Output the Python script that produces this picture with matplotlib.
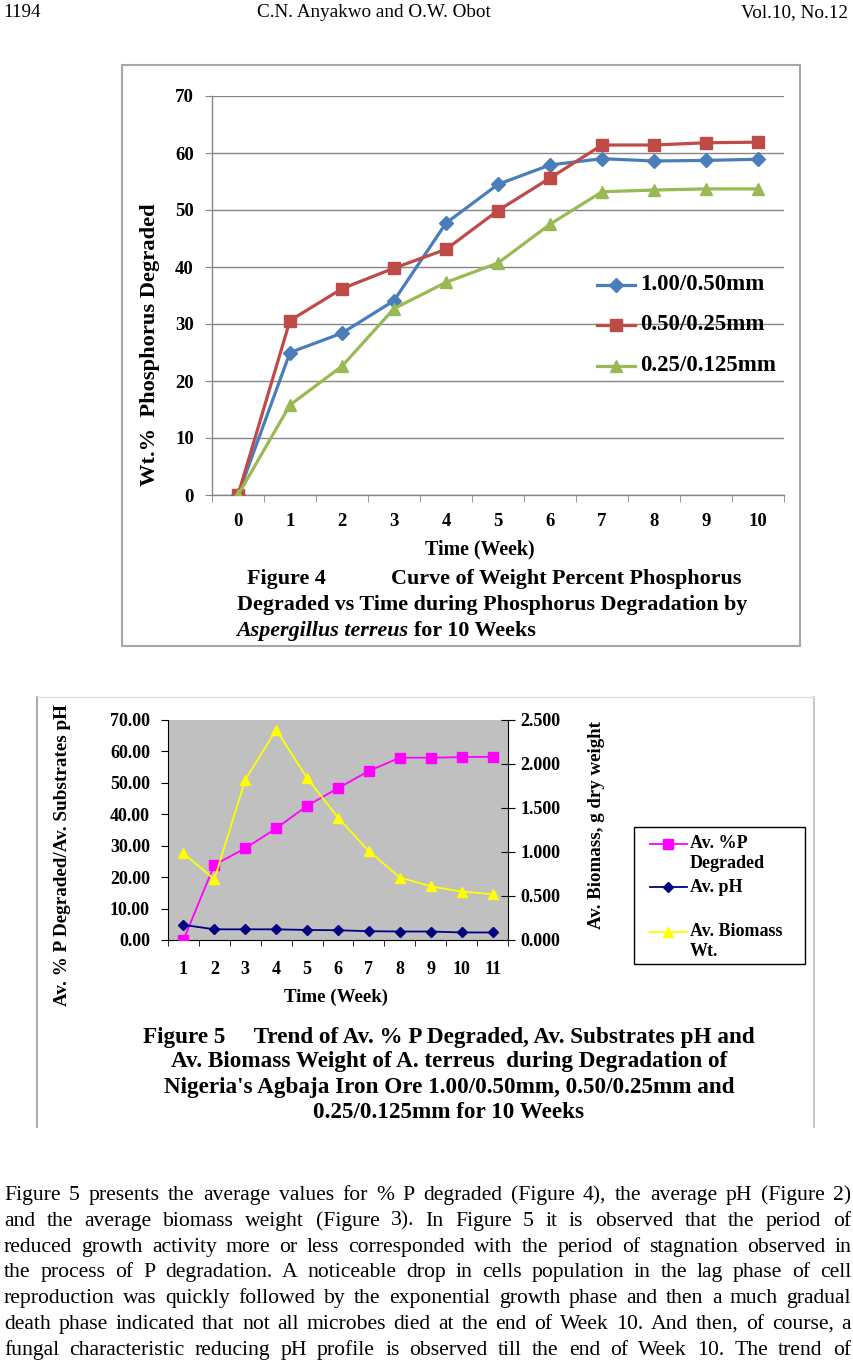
import matplotlib
matplotlib.use('Agg')
import matplotlib.pyplot as plt
from matplotlib.lines import Line2D
from matplotlib.patches import Rectangle

# ---------------- data ----------------
# Figure 4
weeks4 = list(range(0, 11))
size_labels = ['1.00/0.50mm', '0.50/0.25mm', '0.25/0.125mm']
p_coarse = [0, 25.0, 28.4, 34.1, 47.7, 54.5, 57.9, 59.0, 58.6, 58.7, 58.9]
p_medium = [0, 30.6, 36.2, 39.8, 43.1, 49.9, 55.6, 61.4, 61.4, 61.8, 61.9]
p_fine = [0, 15.8, 22.6, 32.7, 37.3, 40.7, 47.5, 53.2, 53.5, 53.7, 53.7]
y4_ticks = [0, 10, 20, 30, 40, 50, 60, 70]

# Figure 5
weeks5 = list(range(1, 12))
avg_p = [0.0, 23.9, 29.2, 35.5, 42.7, 48.3, 53.8, 58.0, 58.0, 58.2, 58.3]
avg_ph = [4.8, 3.4, 3.4, 3.4, 3.2, 3.1, 2.8, 2.7, 2.7, 2.4, 2.4]
avg_biomass = [0.985, 0.69, 1.82, 2.39, 1.84, 1.39, 1.01, 0.71, 0.61, 0.55, 0.52]
y5_left_ticks = [0, 10, 20, 30, 40, 50, 60, 70]
y5_right_ticks = [0.0, 0.5, 1.0, 1.5, 2.0, 2.5]
legend5_labels = [['Av. %P', 'Degraded'], ['Av. pH'], ['Av. Biomass', 'Wt.']]

body_lines = [
    "Figure 5 presents the average values for % P degraded (Figure 4), the average pH (Figure 2)",
    "and the average biomass weight (Figure 3).  In Figure 5 it is observed that the period of",
    "reduced growth activity more or less corresponded with the period of stagnation observed in",
    "the process of P degradation.  A noticeable drop in cells population in the lag phase of cell",
    "reproduction was quickly followed by the exponential growth phase and then a much gradual",
    "death phase indicated that not all microbes died at the end of Week 10.  And then, of course, a",
    "fungal characteristic reducing pH profile is observed till the end of Week 10.  The trend of",
]

# ---------------- setup ----------------
W, H, DPI = 854, 1360, 100
SERIF = 'Liberation Serif'
fig = plt.figure(figsize=(W / DPI, H / DPI), dpi=DPI)
fig.patch.set_facecolor('white')
renderer = fig.canvas.get_renderer()


def fx(x):
    return x / W


def fy(y):
    return 1 - y / H


def px_axes(l, t, r, b):
    return fig.add_axes([fx(l), fy(b), (r - l) / W, (b - t) / H])


def width_of(t, rot=False):
    bb = t.get_window_extent(renderer)
    return bb.height if rot else bb.width


def fit_text(x, y, s, width, ha='center', va='center', rotation=0, **kw):
    kw.setdefault('family', SERIF)
    t = fig.text(fx(x), fy(y), s, fontsize=12, ha=ha, va=va, rotation=rotation, **kw)
    cur = width_of(t, rotation == 90)
    t.set_fontsize(12 * width / cur)
    return t


def ftext(x, y, s, fs, **kw):
    kw.setdefault('family', SERIF)
    return fig.text(fx(x), fy(y), s, fontsize=fs, **kw)


def fline(x0, x1, y0, y1, **kw):
    fig.add_artist(Line2D([fx(x0), fx(x1)], [fy(y0), fy(y1)], transform=fig.transFigure, **kw))


# ---------------- header ----------------
hdr = fit_text(374, 17, 'C.N. Anyakwo and O.W. Obot', 234, va='baseline')
hfs = hdr.get_fontsize()
ftext(3, 17, '1194', hfs, va='baseline', ha='left')
ftext(848, 17, 'Vol.10, No.12', hfs, va='baseline', ha='right')

# ---------------- Figure 4 ----------------
fig.add_artist(Rectangle((fx(122), fy(646)), (800 - 122) / W, (646 - 65) / H,
                         transform=fig.transFigure, fill=False, edgecolor='#a6a6a6', lw=1.5))
ax4 = px_axes(212, 96, 784, 495)
GR = '#868686'
ax4.plot(weeks4, p_coarse, color='#4a7ebb', lw=2.3, marker='D', ms=7, label=size_labels[0], zorder=3)
ax4.plot(weeks4, p_medium, color='#be4b48', lw=2.3, marker='s', ms=9, label=size_labels[1], zorder=3)
ax4.plot(weeks4, p_fine, color='#98b954', lw=2.3, marker='^', ms=9, label=size_labels[2], zorder=3)
ax4.set_xlim(-0.5, 10.5)
ax4.set_ylim(0, 70)
ax4.set_yticks(y4_ticks)
ax4.yaxis.grid(True, color=GR, lw=1)
ax4.set_axisbelow(True)
for s in ['top', 'right']:
    ax4.spines[s].set_visible(False)
for s in ['left', 'bottom']:
    ax4.spines[s].set_color(GR)
    ax4.spines[s].set_linewidth(1)
ax4.set_xticks(weeks4)
ax4.set_xticks([w - 0.5 for w in weeks4] + [10.5], minor=True)
ax4.tick_params(axis='x', which='major', length=0, pad=13)
ax4.tick_params(axis='x', which='minor', length=5, color=GR, direction='out')
ax4.tick_params(axis='y', length=5, color=GR, pad=8)
for lab in ax4.get_xticklabels() + ax4.get_yticklabels():
    lab.set_fontfamily(SERIF)
    lab.set_fontweight('bold')
    lab.set_fontsize(13.5)

fit_text(150, 345, 'Wt.%  Phosphorus Degraded', 280, rotation=90, fontweight='bold')
fit_text(480, 549, 'Time (Week)', 110, fontweight='bold')

# legend (manual)
leg_cols = ['#4a7ebb', '#be4b48', '#98b954']
leg_mk = [('D', 7), ('s', 9), ('^', 9)]
leg_y = [285, 325, 366]
lt = fit_text(640, leg_y[0], size_labels[0], 124, ha='left', fontweight='bold')
lfs = lt.get_fontsize()
for i in range(3):
    fline(597, 635, leg_y[i], leg_y[i], color=leg_cols[i], lw=2.3)
    fig.add_artist(Line2D([fx(616)], [fy(leg_y[i])], transform=fig.transFigure, color=leg_cols[i],
                          marker=leg_mk[i][0], ms=leg_mk[i][1], lw=0))
    if i > 0:
        ftext(640, leg_y[i], size_labels[i], lfs, ha='left', va='center', fontweight='bold')

# caption
c2 = fit_text(492, 605, 'Degraded vs Time during Phosphorus Degradation by', 505, fontweight='bold')
cfs = c2.get_fontsize()
ftext(247, 579, 'Figure 4', cfs, ha='left', va='center', fontweight='bold')
ftext(741, 579, 'Curve of Weight Percent Phosphorus', cfs, ha='right', va='center', fontweight='bold')
it = ftext(236, 631, 'Aspergillus terreus', cfs, ha='left', va='center', fontweight='bold', style='italic')
xe = 236 + width_of(it) + 0.25 * cfs * DPI / 72
ftext(xe, 631, 'for 10 Weeks', cfs, ha='left', va='center', fontweight='bold')

# ---------------- Figure 5 ----------------
fline(37, 37, 697, 1127, color='#999999', lw=1.2)
fline(814, 814, 697, 1127, color='#bbbbbb', lw=1.2)
fline(37, 814, 697, 697, color='#dddddd', lw=1.0)

ax5 = px_axes(168, 720, 508, 940)
ax5.set_facecolor('#c0c0c0')
ax5.plot(weeks5, avg_p, color='#ff00ff', lw=1.3, marker='s', ms=6.5, zorder=3)
ax5.plot(weeks5, avg_ph, color='#000080', lw=1.3, marker='D', ms=5.5, zorder=3)
ax5.set_xlim(0.5, 11.5)
ax5.set_ylim(0, 70)
ax5.set_yticks(y5_left_ticks)
ax5.set_yticklabels(['%.2f' % v for v in y5_left_ticks])
ax5.set_xticks(weeks5)
ax5.set_xticks([w - 0.5 for w in weeks5] + [11.5], minor=True)
ax5.tick_params(axis='x', which='major', length=0, pad=15)
ax5.tick_params(axis='x', which='minor', length=4, color='black', direction='out')
ax5.tick_params(axis='y', length=5, color='black', pad=8, direction='out')
ax5.spines['top'].set_visible(False)
ax5.spines['right'].set_visible(False)

ax5b = ax5.twinx()
ax5b.plot(weeks5, avg_biomass, color='#ffff00', lw=1.3, marker='^', ms=7, zorder=3)
ax5b.set_ylim(0, 2.5)
ax5b.set_yticks(y5_right_ticks)
ax5b.set_yticklabels(['%.3f' % v for v in y5_right_ticks])
ax5b.tick_params(axis='y', length=10, direction='inout', pad=4, color='black')
ax5b.spines['top'].set_visible(False)
ax5b.spines['left'].set_visible(False)
ax5b.spines['bottom'].set_visible(False)
for a in (ax5, ax5b):
    for lab in a.get_xticklabels() + a.get_yticklabels():
        lab.set_fontfamily(SERIF)
        lab.set_fontweight('bold')
        lab.set_fontsize(13)

fit_text(63, 855, 'Av. % P Degraded/Av. Substrates pH', 300, rotation=90, fontweight='bold')
fit_text(597, 825, 'Av. Biomass, g dry weight', 206, rotation=90, fontweight='bold')
fit_text(336, 997, 'Time (Week)', 104, fontweight='bold')

# legend (manual)
fig.add_artist(Rectangle((fx(634), fy(964)), (805 - 634) / W, (964 - 827) / H,
                         transform=fig.transFigure, facecolor='white', edgecolor='black', lw=1))
l5_cols = ['#ff00ff', '#000080', '#ffff00']
l5_mk = [('s', 6.5), ('D', 5.5), ('^', 7)]
l5_y = [844, 887, 932]
lt5 = fit_text(690, l5_y[2], legend5_labels[2][0], 92, ha='left', fontweight='bold')
l5fs = lt5.get_fontsize()
for i in range(3):
    fline(650, 687, l5_y[i], l5_y[i], color=l5_cols[i], lw=1.3)
    fig.add_artist(Line2D([fx(668)], [fy(l5_y[i])], transform=fig.transFigure, color=l5_cols[i],
                          marker=l5_mk[i][0], ms=l5_mk[i][1], lw=0))
    for j, s in enumerate(legend5_labels[i]):
        if i == 2 and j == 0:
            continue
        ftext(690, l5_y[i] + 19 * j, s, l5fs, ha='left', va='center', fontweight='bold')

# caption
cap5 = [
    'Figure 5     Trend of Av. % P Degraded, Av. Substrates pH and',
    'Av. Biomass Weight of A. terreus  during Degradation of',
    "Nigeria's Agbaja Iron Ore 1.00/0.50mm, 0.50/0.25mm and",
    '0.25/0.125mm for 10 Weeks',
]
t5 = fit_text(449, 1037, cap5[0], 610, fontweight='bold')
c5fs = t5.get_fontsize()
for i in range(1, 4):
    ftext(449, 1037 + 25 * i, cap5[i], c5fs, ha='center', va='center', fontweight='bold')

# ---------------- body text (justified) ----------------
X0, X1 = 4, 851
probe = [ftext(0, 0, ln, 14, va='baseline') for ln in body_lines]
maxw = max(width_of(p) for p in probe)
for p in probe:
    p.remove()
bfs = 14 * (X1 - X0) * 0.965 / maxw
for k, ln in enumerate(body_lines):
    yb = 1200 + 25.8 * k
    words = ln.split()
    ts = [ftext(0, 0, w, bfs, va='baseline', ha='left') for w in words]
    ws = [width_of(t) for t in ts]
    gap = (X1 - X0 - sum(ws)) / (len(words) - 1)
    x = X0
    for t, w in zip(ts, ws):
        t.set_position((fx(x), fy(yb)))
        x += w + gap

fig.savefig('out.png', dpi=DPI, facecolor='white')
